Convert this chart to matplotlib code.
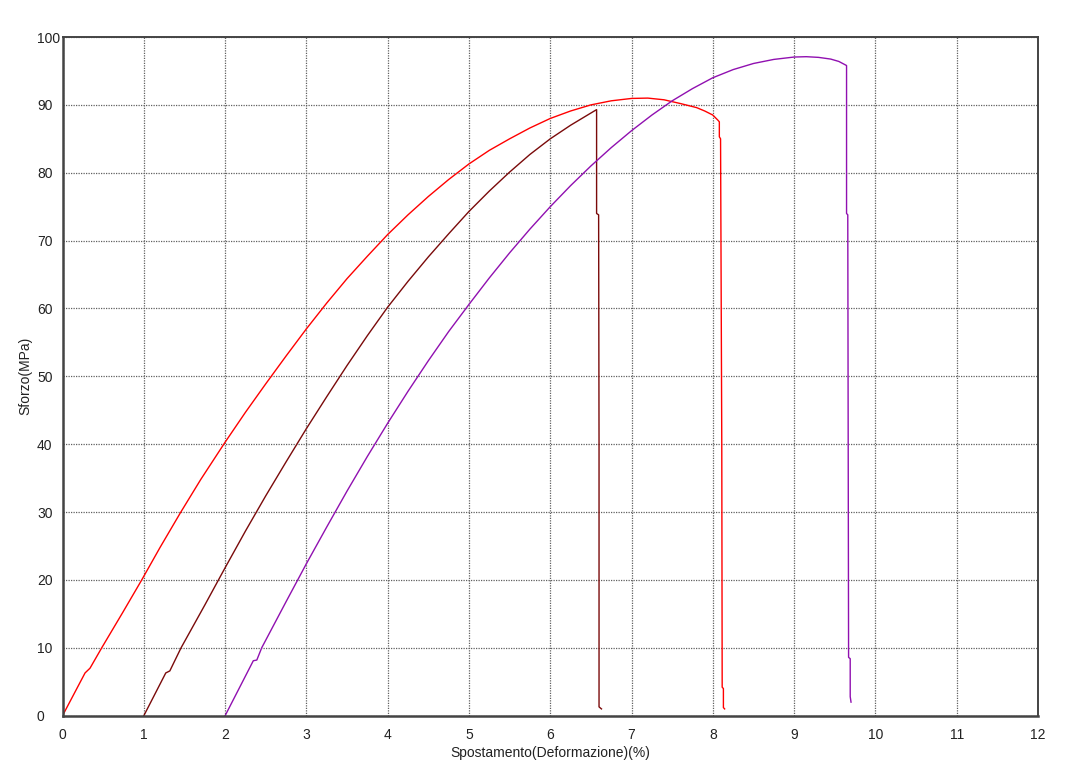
import matplotlib.pyplot as plt

# curve 1 (red)
x_red = [0, 0.277, 0.338, 0.482, 0.74, 0.974, 1.2, 1.45, 1.7, 2.0, 2.25, 2.5, 2.75, 3.0, 3.25,
         3.5, 3.75, 4.0, 4.25, 4.5, 4.75, 5.0, 5.25, 5.5, 5.75, 6.0, 6.25, 6.5,
         6.75, 7.0, 7.2, 7.4, 7.6, 7.8, 7.9, 8.0, 8.066,
         8.08, 8.08, 8.095, 8.11, 8.115, 8.13, 8.13, 8.145]
y_red = [0, 6.3, 7.0, 10, 15.2, 20, 24.8, 29.9, 34.8, 40.3, 44.7, 48.9, 53.0, 57.0, 60.8,
         64.4, 67.7, 70.9, 73.8, 76.5, 79.0, 81.3, 83.3, 85.0, 86.6, 88.0, 89.1, 90.0,
         90.6, 90.95, 91.0, 90.75, 90.2, 89.6, 89.1, 88.5, 87.7,
         87.5, 85.3, 85.0, 40, 4.2, 4.0, 1.2, 1.0]

# curve 2 (brown)
x_brown = [1, 1.27, 1.32, 1.458, 1.75, 2.0, 2.25, 2.5, 2.75, 3.0, 3.25, 3.5,
           3.75, 4.0, 4.25, 4.5, 4.75, 5.0, 5.25, 5.5, 5.75, 6.0, 6.25, 6.5, 6.57,
           6.57, 6.595, 6.60, 6.60, 6.63]
y_brown = [0, 6.3, 6.6, 10, 16.3, 21.8, 27.2, 32.4, 37.4, 42.3, 47.0, 51.6,
           56.0, 60.2, 64.0, 67.6, 71.0, 74.3, 77.3, 80.1, 82.7, 85.0, 87.0, 88.8, 89.3,
           74.0, 73.8, 40, 1.3, 1.0]

# curve 3 (purple)
x_purple = [2, 2.347, 2.39, 2.45, 2.75, 3.0, 3.25, 3.5, 3.75, 4.0, 4.25, 4.5,
            4.75, 5.0, 5.25, 5.5, 5.75, 6.0, 6.25, 6.5, 6.75, 7.0, 7.25, 7.5,
            7.75, 8.0, 8.25, 8.5, 8.75, 9.0, 9.15, 9.3, 9.45, 9.55, 9.645,
            9.645, 9.66, 9.67, 9.69, 9.69, 9.70]
y_purple = [0, 8.1, 8.2, 10, 16.8, 22.4, 27.8, 33.1, 38.2, 43.1, 47.8, 52.3,
            56.6, 60.6, 64.5, 68.2, 71.7, 75.0, 78.1, 81.0, 83.7, 86.2, 88.5, 90.6,
            92.4, 94.0, 95.2, 96.1, 96.7, 97.05, 97.1, 97.0, 96.75, 96.4, 95.8,
            74.0, 73.8, 8.6, 8.4, 2.8, 2.0]

xticks = list(range(0, 13))
yticks = list(range(0, 101, 10))

plt.rcParams['font.family'] = ['Liberation Sans', 'DejaVu Sans']

fig = plt.figure(figsize=(10.8, 7.76), dpi=100)
ax = fig.add_axes([0.0579, 0.0777, 0.9032, 0.8746])

ax.plot(x_red, y_red, color='#ff0000', lw=1.0)
ax.plot(x_brown, y_brown, color='#7a0a0a', lw=1.0)
ax.plot(x_purple, y_purple, color='#9010b0', lw=1.0)

ax.set_xlim(0, 12)
ax.set_ylim(0, 100)
ax.set_xticks(xticks)
ax.set_yticks(yticks)
ax.tick_params(length=0, labelsize=10, colors='#222222')
ax.tick_params(axis='x', pad=9)
ax.tick_params(axis='y', pad=18.4)
for lab in ax.get_yticklabels():
    lab.set_horizontalalignment('left')
ax.grid(True, color='#606060', linestyle=(0, (1, 1)), lw=0.9)
ax.set_axisbelow(True)

for s in ['left', 'bottom']:
    ax.spines[s].set_linewidth(1.8)
    ax.spines[s].set_color('#444444')
for s in ['top', 'right']:
    ax.spines[s].set_linewidth(1.4)
    ax.spines[s].set_color('#444444')

ax.set_xlabel('Spostamento(Deformazione)(%)', fontsize=10, color='#222222', labelpad=3)
ax.set_ylabel('Sforzo(MPa)', fontsize=10, color='#222222', labelpad=3)

fig.savefig('out.png', dpi=100)
